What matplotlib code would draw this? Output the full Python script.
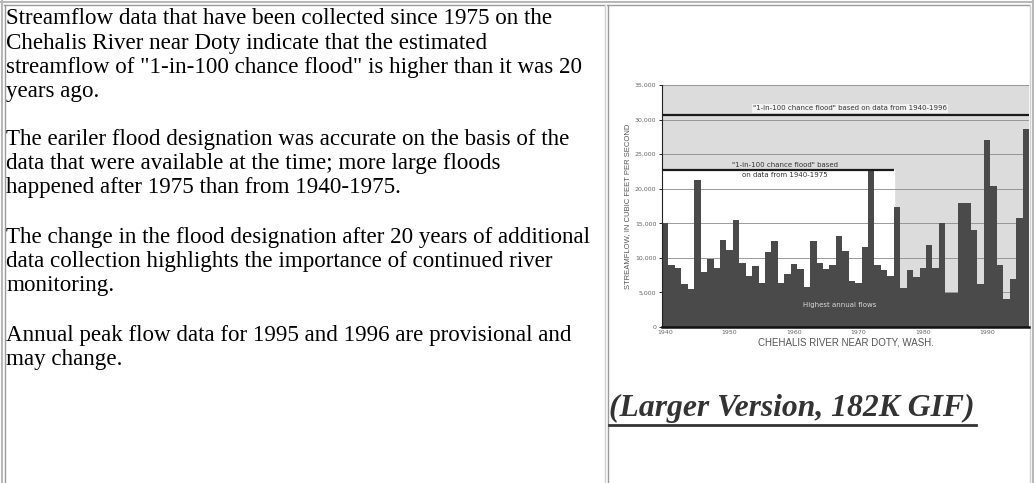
import matplotlib.pyplot as plt
import numpy as np

# annual peak flows, Chehalis River near Doty (cfs)
years = np.arange(1940, 1997)
peaks = [15000, 8900, 8600, 6200, 5500, 21200, 8000, 9900, 8600, 12600,
         11100, 15500, 9200, 7400, 8800, 6400, 10900, 12500, 6400, 7700,
         9100, 8400, 5800, 12400, 9300, 8400, 8900, 13200, 11000, 6600,
         6400, 11500, 22700, 8900, 8200, 7400, 17300, 5700, 8200, 7200,
         8500, 11900, 8600, 15000, 4900, 4900, 18000, 18000, 14000, 6200,
         27100, 20400, 8900, 4000, 6900, 15800, 28600]
flood_1996 = 30700
flood_1975 = 22700
x_ticks = [1940, 1950, 1960, 1970, 1980, 1990]
y_ticks = [0, 5000, 10000, 15000, 20000, 25000, 30000, 35000]

paragraphs = [
    (19, ['Streamflow data that have been collected since 1975 on the',
          'Chehalis River near Doty indicate that the estimated',
          'streamflow of "1-in-100 chance flood" is higher than it was 20',
          'years ago.']),
    (140, ['The eariler flood designation was accurate on the basis of the',
           'data that were available at the time; more large floods',
           'happened after 1975 than from 1940-1975.']),
    (238, ['The change in the flood designation after 20 years of additional',
           'data collection highlights the importance of continued river',
           'monitoring.']),
    (336, ['Annual peak flow data for 1995 and 1996 are provisional and',
           'may change.']),
]

W, H = 1034, 483
fig = plt.figure(figsize=(W / 100, H / 100), dpi=100)
fig.patch.set_facecolor('white')

# page layer in pixel coords
bg = fig.add_axes([0, 0, 1, 1])
bg.set_xlim(0, W)
bg.set_ylim(H, 0)
bg.axis('off')

# table borders
bg.plot([1, W - 1], [1.5, 1.5], color='#b8b8b8', lw=1.5)
bg.plot([1.5, 1.5], [1, H], color='#b8b8b8', lw=1.5)
bg.plot([W - 1.5, W - 1.5], [1, H], color='#b8b8b8', lw=1.5)
bg.plot([4, 604], [4.5, 4.5], color='#9a9a9a', lw=1)
bg.plot([4.5, 4.5], [4.5, H], color='#9a9a9a', lw=1)
bg.plot([604.5, 604.5], [4.5, H], color='#d0d0d0', lw=1)
bg.plot([607.5, 607.5], [4.5, H], color='#9a9a9a', lw=1)
bg.plot([607, 1029], [4.5, 4.5], color='#9a9a9a', lw=1)
bg.plot([1029.5, 1029.5], [4.5, H], color='#d0d0d0', lw=1)

for y0, lines in paragraphs:
    for k, line in enumerate(lines):
        bg.text(6, y0 + 24 * k, line, ha='left', va='center',
                fontsize=16.6, family='Liberation Serif', color='black')

bg.text(609, 408, '(Larger Version, 182K GIF)', ha='left', va='center',
        fontsize=22.8, family='Liberation Serif', fontweight='bold',
        fontstyle='italic', color='#333333')
bg.plot([609, 976], [425, 425], color='#333333', lw=2)

# the chart image
ax = fig.add_axes([662 / W, (H - 327) / H, 367 / W, 242 / H])
ax.set_facecolor('#dcdcdc')
ax.set_xlim(1939.5, 1996.5)
ax.set_ylim(0, 35000)
ax.fill_between([1939.5, 1975.6], 0, flood_1975, color='white', zorder=0.2)
ax.set_axisbelow(True)
ax.yaxis.grid(True, color='#8a8a8a', lw=0.6)

ax.bar(years, peaks, width=1.0, color='#4a4a4a', lw=0, zorder=2)

ax.hlines(flood_1996, 1939.5, 1996.5, color='#1a1a1a', lw=1.6, zorder=3)
ax.hlines(flood_1975, 1939.5, 1975.6, color='#1a1a1a', lw=1.6, zorder=3)
ax.text(1968.7, flood_1996 + 500,
        '"1-in-100 chance flood" based on data from 1940-1996',
        ha='center', va='bottom', fontsize=5, color='#333333', zorder=4,
        bbox=dict(facecolor='#f2f2f2', edgecolor='none', pad=1))
ax.text(1958.6, flood_1975 + 350, '"1-in-100 chance flood" based',
        ha='center', va='bottom', fontsize=5, color='#333333', zorder=4)
ax.text(1958.6, flood_1975 - 300, 'on data from 1940-1975',
        ha='center', va='top', fontsize=5, color='#333333', zorder=4)
ax.text(1967.1, 3200, 'Highest annual flows', ha='center', va='center',
        fontsize=5, color='#d8d8d8', zorder=4)

ax.set_xticks(x_ticks)
ax.set_xticklabels([str(v) for v in x_ticks])
ax.set_yticks(y_ticks)
ax.set_yticklabels(['{:,}'.format(v) for v in y_ticks])
ax.tick_params(axis='x', direction='in', length=3, width=0.8, labelsize=4.5,
               labelcolor='#666666', pad=2)
ax.tick_params(axis='y', direction='out', length=2, width=0.6, labelsize=4.5,
               labelcolor='#666666', pad=2)
for s in ['top', 'right']:
    ax.spines[s].set_visible(False)
ax.spines['left'].set_color('#222222')
ax.spines['bottom'].set_color('#111111')
ax.spines['bottom'].set_linewidth(1.8)
ax.set_xlabel('CHEHALIS RIVER NEAR DOTY, WASH.', fontsize=7,
              color='#555555', labelpad=2, family='Liberation Sans')
ax.set_ylabel('STREAMFLOW, IN CUBIC FEET PER SECOND', fontsize=5.5,
              color='#555555', labelpad=3, family='Liberation Sans')

fig.savefig('out.png', dpi=100)
